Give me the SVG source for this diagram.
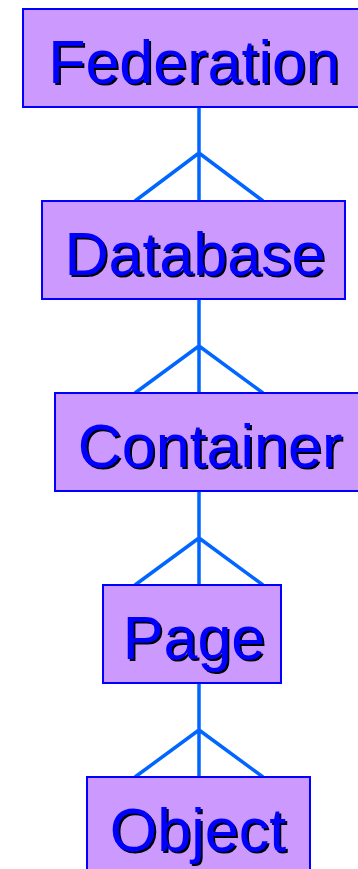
<svg xmlns="http://www.w3.org/2000/svg" width="358" height="869" viewBox="0 0 358 869">
<defs>
<filter id="shadow" x="-5%" y="-10%" width="115%" height="130%">
<feDropShadow dx="2" dy="2" stdDeviation="0" flood-color="#000000" flood-opacity="1"/>
</filter>
</defs>
<style>
.box{fill:#CC99FF;stroke:#0000FF;stroke-width:2}
.lbl{font-family:"Liberation Sans",Arial,sans-serif;font-size:61px;text-anchor:middle;fill:#0000FF;filter:url(#shadow)}
.con{stroke:#0066FF;stroke-width:3.5;fill:none;stroke-linecap:butt}
</style>
<rect width="358" height="869" fill="#FFFFFF"/>
<g id="connectors">
<path class="con" d="M199 105V201M199 153L135 201M199 153L263 201"/>
<path class="con" d="M199 297V393M199 346L135 393M199 346L263 393"/>
<path class="con" d="M199 489V585M199 538L135 585M199 538L263 585"/>
<path class="con" d="M199 681V777M199 730L135 777M199 730L263 777"/>
</g>
<g id="federation">
<rect class="box" x="23" y="9" width="336" height="98"/>
<text class="lbl" x="194" y="83">Federation</text>
</g>
<g id="database">
<rect class="box" x="42" y="201" width="303" height="98"/>
<text class="lbl" x="195" y="275">Database</text>
</g>
<g id="container">
<rect class="box" x="55" y="393" width="306" height="98"/>
<text class="lbl" x="210" y="467">Container</text>
</g>
<g id="page">
<rect class="box" x="103" y="585" width="178" height="98"/>
<text class="lbl" x="194" y="659">Page</text>
</g>
<g id="object">
<rect class="box" x="87" y="777" width="223" height="98"/>
<text class="lbl" x="198" y="851">Object</text>
</g>
</svg>
